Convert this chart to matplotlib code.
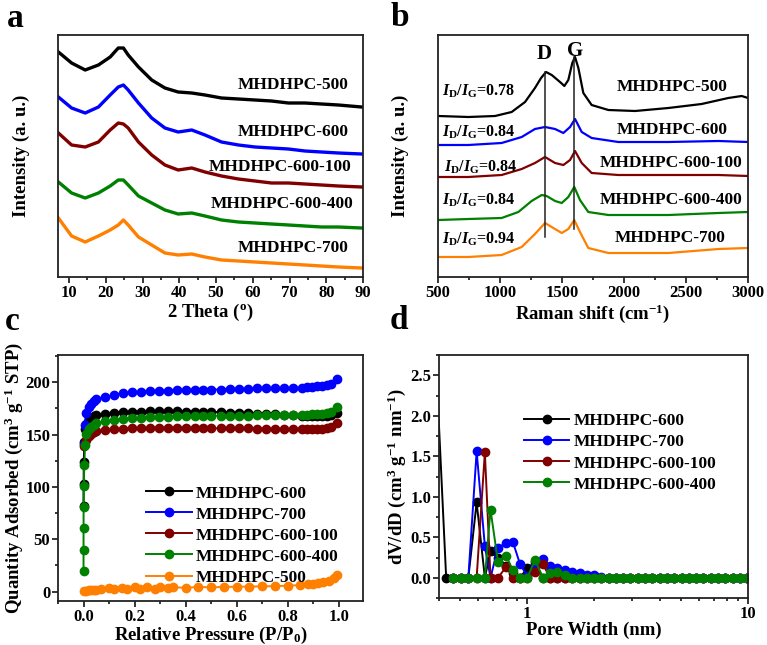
import matplotlib
matplotlib.use("Agg")
import matplotlib.pyplot as plt
from matplotlib.ticker import MultipleLocator, FormatStrFormatter, NullFormatter, LogLocator

plt.rcParams['font.family'] = ['Liberation Serif', 'DejaVu Serif']
plt.rcParams['font.weight'] = 'bold'
plt.rcParams['axes.labelweight'] = 'bold'
plt.rcParams['mathtext.fontset'] = 'custom'
plt.rcParams['mathtext.rm'] = 'Liberation Serif:bold'
plt.rcParams['mathtext.it'] = 'Liberation Serif:bold:italic'
plt.rcParams['mathtext.bf'] = 'Liberation Serif:bold'

BLACK = '#000000'
BLUE = '#0000ff'
RED = '#800000'
GREEN = '#008000'
ORANGE = '#ff8000'

# ---- (a) XRD, intensity in arbitrary units ----
xrd_theta = [7.1, 10.7, 14.4, 18.0, 21.2, 23.4, 24.8, 26.1, 28.9, 32.5, 36.1, 39.7, 43.4,
             47.0, 51.5, 56.1, 60.6, 65.1, 69.7, 74.2, 78.7, 83.3, 89.6]
xrd_500 = [225, 214, 207, 212, 220, 229, 229, 222, 210, 197, 189, 185, 184,
           182, 179, 178, 177, 176, 174, 174, 173, 172, 170]
xrd_600 = [180, 169, 164, 170, 182, 190, 192, 187, 174, 159, 149, 145, 147,
           142, 135, 132, 130, 129, 128, 126, 125, 124, 123]
xrd_600_100 = [144, 132, 130, 135, 147, 154, 153, 149, 135, 122, 112, 107, 109,
               105, 101, 98, 96, 94, 94, 93, 92, 91, 90]
xrd_600_400 = [95, 84, 79, 84, 91, 97, 97, 92, 81, 74, 67, 63, 64,
               61, 57, 55, 54, 53, 52, 51, 50, 50, 49]
xrd_700 = [59, 41, 35, 41, 47, 52, 57, 52, 40, 32, 24, 22, 23,
           20, 17, 16, 15, 14, 13, 12, 11, 10, 9]
xrd_names = ['MHDHPC-500', 'MHDHPC-600', 'MHDHPC-600-100', 'MHDHPC-600-400', 'MHDHPC-700']

# ---- (b) Raman ----
ram_500_x = [503, 745, 960, 1094, 1202, 1282, 1331, 1371, 1417, 1484, 1519, 1551, 1583, 1605,
             1632, 1672, 1739, 1874, 2089, 2358, 2626, 2841, 2949, 3000]
ram_500_y = [161, 160, 161, 165, 175, 189, 199, 205, 202, 195, 191, 197, 214, 220,
             209, 184, 172, 167, 166, 169, 173, 179, 181, 179]
ram_600_x = [503, 745, 1013, 1175, 1282, 1363, 1444, 1511, 1565, 1605, 1659, 1739, 1954, 2358, 2761, 3000]
ram_600_y = [132, 132, 134, 140, 148, 150, 148, 144, 150, 158, 145, 139, 135, 135, 136, 135]
ram_600_100_x = [503, 745, 1013, 1175, 1282, 1363, 1444, 1511, 1565, 1605, 1659, 1739, 1954, 2358, 2761, 3000]
ram_600_100_y = [100, 100, 102, 108, 114, 120, 114, 112, 117, 126, 114, 104, 102, 102, 102, 101]
ram_600_400_x = [503, 745, 1013, 1148, 1255, 1336, 1376, 1444, 1498, 1551, 1599, 1645, 1712, 1874, 2358, 2761, 3000]
ram_600_400_y = [57, 58, 59, 65, 76, 82, 81, 76, 74, 80, 90, 77, 65, 62, 62, 64, 65]
ram_700_x = [503, 745, 1013, 1175, 1282, 1363, 1430, 1498, 1551, 1599, 1645, 1712, 1874, 2358, 2761, 3000]
ram_700_y = [20, 20, 22, 30, 43, 54, 49, 44, 48, 57, 45, 29, 24, 24, 28, 29]
ratio_labels = ['0.78', '0.84', '0.84', '0.84', '0.94']
d_band, g_band = 1363, 1599

# ---- (c) N2 isotherms ----
p_plat = [0.085, 0.12, 0.155, 0.19, 0.225, 0.26, 0.295, 0.33, 0.365, 0.40, 0.435, 0.47, 0.50, 0.54,
          0.575, 0.61, 0.645, 0.68, 0.715, 0.75, 0.785, 0.82, 0.855, 0.875, 0.895, 0.915, 0.935,
          0.955, 0.97, 0.995]
iso_600_p = [0.0001, 0.0003, 0.001, 0.003, 0.006, 0.01, 0.02, 0.03, 0.04, 0.05] + p_plat
iso_600_q = [82, 103, 124, 143, 155, 160, 164, 166, 167.5, 168.5,
             170, 171, 171.5, 172, 172, 172.5, 172.5, 172.5, 172.5, 172, 172, 172, 171.5, 171.5,
             171, 171, 170.5, 170, 170, 169.5, 169, 168.5, 168, 168, 168, 168, 168, 168, 168.5, 170.5]
iso_700_p = [0.001, 0.004, 0.01, 0.02, 0.03, 0.04, 0.05] + p_plat
iso_700_q = [141, 159, 171, 176, 179.5, 182, 184,
             185.5, 188, 189.5, 190.5, 191, 191.5, 192, 192, 192.5, 192.5, 193, 193, 193, 193,
             193.5, 193.5, 193.5, 194, 194, 194, 194, 194, 194.5, 195, 195.5, 196, 196.5, 197.5, 198.5, 203.5]
iso_600_100_p = [0.001, 0.01, 0.02, 0.03, 0.04, 0.05] + p_plat
iso_600_100_q = [139, 145, 148.5, 150.5, 152, 153,
                 154, 155, 155.5, 156, 156, 156.5, 156.5, 156.5, 156.5, 156.5, 156.5, 156.5, 156, 156,
                 156, 156, 156, 155.5, 155.5, 155.5, 155.5, 155, 155, 155, 155, 155.5, 155.5, 156, 157, 161]
iso_600_400_p = [0.00001, 0.00003, 0.0001, 0.0003, 0.001, 0.003, 0.006, 0.01, 0.02, 0.03, 0.04, 0.05] + p_plat
iso_600_400_q = [20, 40, 61, 81, 101, 121, 140, 151, 155, 157, 159, 161,
                 162.5, 164, 165, 165.5, 166, 166.5, 167, 167, 167.5, 167.5, 167.5, 168, 168, 168,
                 168, 168, 168, 168.5, 168.5, 169, 169, 169, 168.5, 169, 169.5, 170, 170, 170.5, 171.5, 176]
iso_500_p = [0.0, 0.01, 0.02, 0.03, 0.04, 0.05, 0.07, 0.1, 0.12, 0.15, 0.17, 0.2, 0.22, 0.25, 0.28,
             0.3, 0.33, 0.35, 0.4, 0.45, 0.5, 0.55, 0.6, 0.65, 0.7, 0.75, 0.8, 0.85, 0.88, 0.9,
             0.92, 0.94, 0.96, 0.98, 0.995]
iso_500_q = [0.5, 1, 1.2, 1.4, 1.6, 1.8, 2, 3.5, 2, 3.8, 2.2, 4, 2.4, 4, 2.6,
             4.2, 3, 4.3, 3.5, 4.5, 4, 4.5, 4.6, 4.8, 5, 5.2, 5.6, 6.2, 6.8, 7.3,
             8, 9, 10.5, 12.5, 15.5]

# ---- (d) pore size distribution ----
pw = [0.431, 0.463, 0.501, 0.543, 0.592, 0.645, 0.684, 0.739, 0.806, 0.864, 0.930, 1.004, 1.087,
      1.182, 1.272, 1.373, 1.487, 1.606, 1.733, 1.865, 2.012, 2.17, 2.34, 2.53, 2.73, 2.94, 3.17,
      3.42, 3.69, 3.99, 4.30, 4.64, 5.01, 5.40, 5.83, 6.29, 6.79, 7.32, 7.90, 8.53, 9.20, 9.93]
psd_600_x = [0.38] + pw
psd_600 = [3.16, 0, 0, 0, 0, 0.93, 0, 0.33, 0.25, 0.15, 0.06, 0, 0.12, 0.19,
           0, 0, 0, 0, 0, 0, 0, 0, 0, 0, 0, 0, 0,
           0, 0, 0, 0, 0, 0, 0, 0, 0, 0, 0, 0, 0, 0, 0, 0]
psd_700 = [0, 0, 0, 1.56, 0.39, 0, 0.37, 0.43, 0.44, 0.17, 0.02, 0.15,
           0.23, 0.14, 0.115, 0.095, 0.075, 0.055, 0.04, 0.03, 0.01, 0, 0, 0, 0, 0,
           0, 0, 0, 0, 0, 0, 0, 0, 0, 0, 0, 0, 0, 0, 0]
psd_600_100 = [0, 0, 0, 0, 1.55, 0, 0, 0.135, 0, 0, 0, 0.07,
               0.165, 0, 0, 0, 0, 0, 0, 0, 0, 0, 0, 0, 0, 0,
               0, 0, 0, 0, 0, 0, 0, 0, 0, 0, 0, 0, 0, 0, 0]
psd_600_400 = [0, 0, 0, 0, 0, 0.84, 0.20, 0.27, 0.09, 0, 0, 0.22,
               0, 0.06, 0.07, 0.03, 0, 0, 0, 0, 0, 0, 0, 0, 0, 0,
               0, 0, 0, 0, 0, 0, 0, 0, 0, 0, 0, 0, 0, 0, 0]

W, H = 767, 645
fig = plt.figure(figsize=(W / 100, H / 100), dpi=100)


def box(l, t, r, b):
    return [l / W, 1 - b / H, (r - l) / W, (b - t) / H]


def style(ax):
    for s in ax.spines.values():
        s.set_linewidth(1.3)
        s.set_color('#222222')
    ax.tick_params(which='both', direction='out', top=False, right=False, width=1.1,
                   labelsize=12, pad=1.5)
    ax.tick_params(which='major', length=4)
    ax.tick_params(which='minor', length=2.5)


LAB = 13.5

# (a)
ax = fig.add_axes(box(58, 35, 363, 277))
style(ax)
cols = [BLACK, BLUE, RED, GREEN, ORANGE]
for ys, c in zip([xrd_500, xrd_600, xrd_600_100, xrd_600_400, xrd_700], cols):
    ax.plot(xrd_theta, ys, color=c, lw=2.4, solid_joinstyle='round')
lab_y = [192, 145, 110, 73, 29]
lab_x = [86.2, 86.2, 86.8, 87.3, 86.2]
for name, lx, ly in zip(xrd_names, lab_x, lab_y):
    ax.text(lx, ly, name, ha='right', va='center', fontsize=12.5, fontweight='bold')
ax.set_xlim(7, 90)
ax.set_ylim(0, 242)
ax.set_yticks([])
ax.xaxis.set_major_locator(MultipleLocator(10))
ax.xaxis.set_minor_locator(MultipleLocator(5))
ax.set_xlabel('2 Theta ($^{\\mathrm{o}}$)', fontsize=LAB, labelpad=1)
ax.set_ylabel('Intensity (a. u.)', fontsize=LAB, labelpad=20)

# (b)
ax = fig.add_axes(box(438, 35, 748, 277))
style(ax)
for xs, ys, c in zip([ram_500_x, ram_600_x, ram_600_100_x, ram_600_400_x, ram_700_x],
                     [ram_500_y, ram_600_y, ram_600_100_y, ram_600_400_y, ram_700_y], cols):
    ax.plot(xs, ys, color=c, lw=1.6, solid_joinstyle='round')
ax.plot([d_band, d_band], [40, 205], color='#222222', lw=1.1)
ax.plot([g_band, g_band], [48, 220], color='#222222', lw=1.1)
ax.text(d_band - 10, 223, 'D', ha='center', va='center', fontsize=15)
ax.text(g_band + 5, 226, 'G', ha='center', va='center', fontsize=15)
lab_x = [2833, 2833, 2952, 2952, 2820]
lab_y = [190, 147, 114, 77, 39]
for name, lx, ly in zip(xrd_names, lab_x, lab_y):
    ax.text(lx, ly, name, ha='right', va='center', fontsize=12.5)
rat_y = [186, 145, 110, 77, 38]
rat_x = [535, 535, 550, 535, 535]
for r, rx, ry in zip(ratio_labels, rat_x, rat_y):
    ax.text(rx, ry, '$I_{\\mathrm{D}}/I_{\\mathrm{G}}$=' + r, ha='left', va='center', fontsize=11.5)
ax.set_xlim(500, 3000)
ax.set_ylim(0, 242)
ax.set_yticks([])
ax.xaxis.set_major_locator(MultipleLocator(500))
ax.xaxis.set_minor_locator(MultipleLocator(250))
ax.set_xlabel('Raman shift (cm$^{-1}$)', fontsize=LAB, labelpad=1)
ax.set_ylabel('Intensity (a. u.)', fontsize=LAB, labelpad=21)

# (c)
ax = fig.add_axes(box(58, 355, 363, 601))
style(ax)
iso = [(iso_600_p, iso_600_q, BLACK, 'MHDHPC-600'),
       (iso_700_p, iso_700_q, BLUE, 'MHDHPC-700'),
       (iso_600_100_p, iso_600_100_q, RED, 'MHDHPC-600-100'),
       (iso_600_400_p, iso_600_400_q, GREEN, 'MHDHPC-600-400'),
       (iso_500_p, iso_500_q, ORANGE, 'MHDHPC-500')]
for xs, ys, c, name in iso:
    ax.plot(xs, ys, 'o-', color=c, ms=6, lw=1.4, label=name)
ax.set_xlim(-0.1, 1.095)
ax.set_ylim(-9, 226)
ax.xaxis.set_major_locator(MultipleLocator(0.2))
ax.xaxis.set_minor_locator(MultipleLocator(0.1))
ax.xaxis.set_major_formatter(FormatStrFormatter('%.1f'))
ax.yaxis.set_major_locator(MultipleLocator(50))
ax.yaxis.set_minor_locator(MultipleLocator(25))
ax.set_xlabel('Relative Pressure (P/P$_{0}$)', fontsize=LAB, labelpad=0)
ax.set_ylabel('Quantity Adsorbed (cm$^{3}$ g$^{-1}$ STP)', fontsize=LAB, labelpad=0)
ax.legend(loc='upper left', bbox_to_anchor=(0.29, 0.47), frameon=False, fontsize=12.5,
          numpoints=1, handlelength=2.6, handletextpad=0.25, labelspacing=0.28,
          borderpad=0, borderaxespad=0)

# (d)
ax = fig.add_axes(box(439, 355, 748, 598))
style(ax)
ax.plot(psd_600_x, psd_600, 'o-', color=BLACK, ms=6, lw=1.4, label='MHDHPC-600')
ax.plot(pw[1:], psd_700, 'o-', color=BLUE, ms=6, lw=1.4, label='MHDHPC-700')
ax.plot(pw[1:], psd_600_100, 'o-', color=RED, ms=6, lw=1.4, label='MHDHPC-600-100')
ax.plot(pw[1:], psd_600_400, 'o-', color=GREEN, ms=6, lw=1.4, label='MHDHPC-600-400')
ax.set_xscale('log')
ax.set_xlim(0.4, 10)
ax.set_ylim(-0.25, 2.75)
ax.xaxis.set_major_locator(LogLocator(base=10))
ax.xaxis.set_minor_locator(LogLocator(base=10, subs=[0.2, 0.3, 0.4, 0.5, 0.6, 0.7, 0.8, 0.9]))
ax.xaxis.set_major_formatter(FormatStrFormatter('%g'))
ax.xaxis.set_minor_formatter(NullFormatter())
ax.yaxis.set_major_locator(MultipleLocator(0.5))
ax.yaxis.set_minor_locator(MultipleLocator(0.25))
ax.yaxis.set_major_formatter(FormatStrFormatter('%.1f'))
ax.set_xlabel('Pore Width (nm)', fontsize=LAB, labelpad=0)
ax.set_ylabel('dV/dD (cm$^{3}$ g$^{-1}$ nm$^{-1}$)', fontsize=LAB, labelpad=2)
ax.legend(loc='upper left', bbox_to_anchor=(0.275, 0.76), frameon=False, fontsize=12.5,
          numpoints=1, handlelength=2.6, handletextpad=0.25, labelspacing=0.28,
          borderpad=0, borderaxespad=0)

for letter, x, y in [('a', 7, 27), ('b', 391, 26), ('c', 5, 330), ('d', 390, 329)]:
    fig.text(x / W, 1 - y / H, letter, fontsize=24, fontweight='bold', ha='left', va='baseline')

fig.savefig('out.png', dpi=100)
